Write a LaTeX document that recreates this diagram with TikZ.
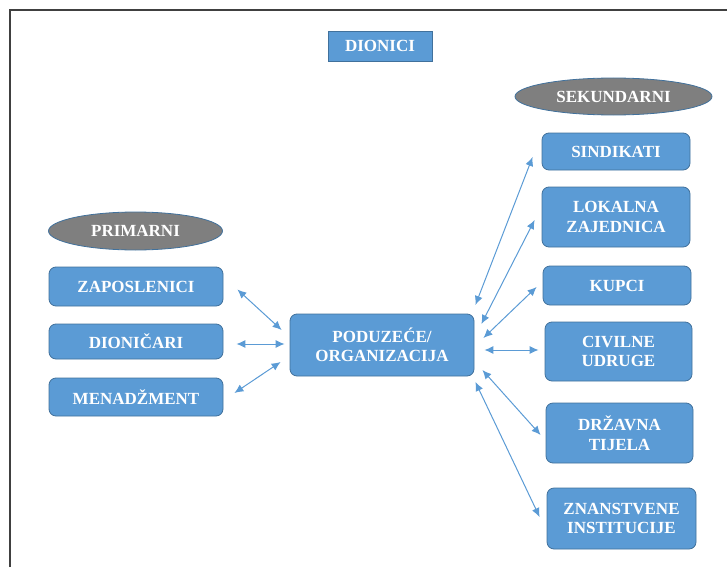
\documentclass[tikz,border=0pt]{standalone}
\usepackage{fontspec}
\setmainfont{Liberation Serif}
\usetikzlibrary{shapes.geometric,calc,arrows.meta}
\definecolor{boxblue}{HTML}{5B9BD5}
\definecolor{edgeblue}{HTML}{41719C}
\definecolor{ellgray}{HTML}{7F7F7F}
\definecolor{framegray}{HTML}{404040}
\tikzset{
  lbl/.style={text=white, font=\bfseries\fontsize{17}{19.5}\selectfont, align=center, inner sep=0pt},
  box/.style={lbl, draw=edgeblue, fill=boxblue, rounded corners=7pt, line width=0.8pt},
  titlebox/.style={lbl, draw=edgeblue, fill=boxblue, line width=0.8pt},
  oval/.style={lbl, ellipse, draw=edgeblue, fill=ellgray, line width=0.8pt},
  link/.style={{Latex[length=9pt,width=8pt]}-{Latex[length=9pt,width=8pt]}, draw=boxblue, line width=1pt},
}
\begin{document}
\begin{tikzpicture}[x=1pt,y=-1pt]
\useasboundingbox (0,0) rectangle (727,567);
\draw[framegray, line width=2.2pt] (10,567) -- (10,10) -- (727,10);

\node[titlebox, minimum width=104, minimum height=30] (dionici) at (380,46) {DIONICI};

\node[oval, minimum width=174, minimum height=38] (prim) at (135.5,231) {PRIMARNI};
\node[box, minimum width=174, minimum height=39] (zap) at (136,286.5) {ZAPOSLENICI};
\node[box, minimum width=174, minimum height=35] (dion) at (136,341.5) {DIONIČARI};
\node[box, minimum width=174, minimum height=38] (men) at (136,397) {MENADŽMENT};

\node[box, minimum width=184, minimum height=62] (pod) at (382,345) {PODUZEĆE/\\ORGANIZACIJA};

\node[oval, minimum width=197, minimum height=37] (sek) at (613.5,96.5) {SEKUNDARNI};
\node[box, minimum width=148, minimum height=37] (sind) at (616,151.5) {SINDIKATI};
\node[box, minimum width=148, minimum height=60] (lok) at (616,217) {LOKALNA\\ZAJEDNICA};
\node[box, minimum width=148, minimum height=39] (kup) at (617,285.5) {KUPCI};
\node[box, minimum width=147, minimum height=59] (civ) at (618.5,351.5) {CIVILNE\\UDRUGE};
\node[box, minimum width=147, minimum height=60] (drz) at (619.5,433) {DRŽAVNA\\TIJELA};
\node[box, minimum width=149, minimum height=61] (zna) at (621.5,518.5) {ZNANSTVENE\\INSTITUCIJE};

\draw[link] ($(zap.east)+(14,3)$) -- ($(pod.west)+(-8,-15)$);
\draw[link] ($(dion.east)+(13,2.5)$) -- ($(pod.west)+(-5,-1)$);
\draw[link] ($(men.east)+(11,-4)$) -- ($(pod.west)+(-9,17)$);

\draw[link] ($(pod.east)+(1,-40)$) -- ($(sind.west)+(-9,5.5)$);
\draw[link] ($(pod.east)+(7,-21)$) -- ($(lok.west)+(-7,3)$);
\draw[link] ($(pod.east)+(9,-7)$) -- ($(kup.west)+(-6,1.5)$);
\draw[link] ($(pod.east)+(10,5)$) -- ($(civ.west)+(-6,-1.5)$);
\draw[link] ($(pod.east)+(8,25)$) -- ($(drz.west)+(-5,2)$);
\draw[link] ($(pod.east)+(1,37)$) -- ($(zna.west)+(-7,-1.5)$);
\end{tikzpicture}
\end{document}
